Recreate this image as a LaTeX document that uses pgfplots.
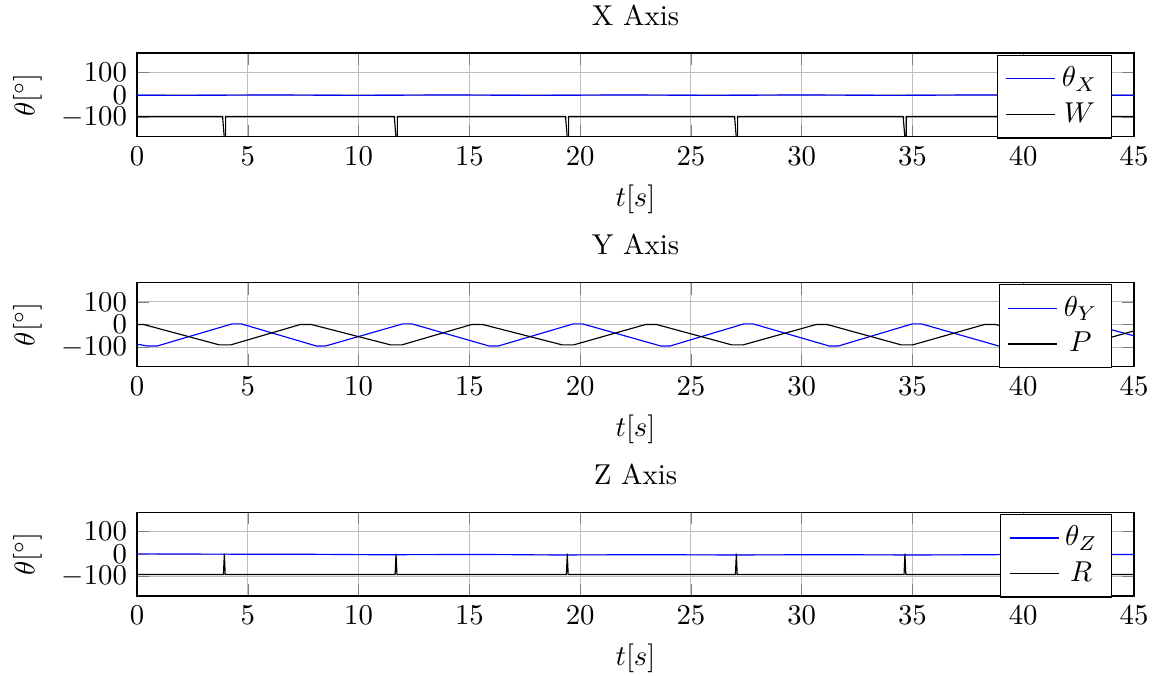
\documentclass[border=0pt]{standalone}
\usepackage{pgfplots}
\pgfplotsset{compat=1.18}
\usepgfplotslibrary{groupplots}

\begin{document}
\begin{tikzpicture}
\begin{groupplot}[
  group style={group size=1 by 3, vertical sep=50.7pt},
  scale only axis,
  width=347pt, height=29.2pt,
  xmin=0, xmax=45, ymin=-185, ymax=185,
  xtick={0,5,...,45}, ytick={-100,0,100},
  grid=major,
  xlabel={$t[s]$}, ylabel={$\theta[^\circ]$},
  legend style={at={(0.978,0.98)}, anchor=north east},
  legend cell align=center,
]
% X axis
\nextgroupplot[title={X Axis}]
\addplot[blue] coordinates {(0,-1) (2,-2) (4,-1) (6,0) (8,-1) (10,-2) (12,-1) (14,0) (16,-1) (18,-2) (20,-1) (22,0) (24,-1) (26,-2) (28,-1) (30,0) (32,-1) (34,-2) (36,-1) (38,0) (40,-1) (42,-2) (45,-1)};
\addplot[black] coordinates {(0,-95)
 (3.86,-95) (3.94,-190) (4.0,-190) (4.0,-95)
 (11.61,-95) (11.69,-190) (11.75,-190) (11.75,-95)
 (19.34,-95) (19.42,-190) (19.48,-190) (19.48,-95)
 (26.97,-95) (27.05,-190) (27.11,-190) (27.11,-95)
 (34.58,-95) (34.66,-190) (34.72,-190) (34.72,-95)
 (42.30,-95) (42.38,-190) (42.44,-190) (42.44,-95)
 (45,-95)};
\legend{$\theta_X$,$W$}
% Y axis
\nextgroupplot[title={Y Axis}]
\addplot[blue] coordinates {(0,-87) (0.5,-95) (0.9,-95) (4.3,3) (4.7,3)
 (8.1,-95) (8.5,-95) (12.0,3) (12.4,3)
 (15.9,-95) (16.3,-95) (19.7,3) (20.1,3)
 (23.65,-95) (24.05,-95) (27.4,3) (27.8,3)
 (31.25,-95) (31.65,-95) (35.0,3) (35.4,3)
 (38.9,-95) (39.3,-95) (42.6,3) (43.0,3) (45,-50)};
\addplot[black] coordinates {(0,0) (0.3,0) (3.72,-90) (4.22,-90) (7.37,0) (7.87,0)
 (11.45,-90) (11.95,-90) (15.1,0) (15.6,0)
 (19.2,-90) (19.7,-90) (22.95,0) (23.45,0)
 (26.85,-90) (27.35,-90) (30.65,0) (31.15,0)
 (34.5,-90) (35.0,-90) (38.25,0) (38.75,0)
 (42.25,-90) (42.75,-90) (45,-28)};
\legend{$\theta_Y$,$P$}
% Z axis
\nextgroupplot[title={Z Axis}]
\addplot[blue] coordinates {(0,1) (3,0) (6,-1) (8,-1) (11,-3) (14,-2) (16,-2) (19,-4) (22,-3) (24,-3) (27,-4) (30,-3) (32,-3) (35,-4) (38,-3) (40,-2) (45,-2)};
\addplot[black] coordinates {(0,-90)
 (3.90,-90) (3.94,2) (3.98,-90)
 (11.65,-90) (11.69,2) (11.73,-90)
 (19.38,-90) (19.42,2) (19.46,-90)
 (27.01,-90) (27.05,2) (27.09,-90)
 (34.62,-90) (34.66,2) (34.70,-90)
 (42.34,-90) (42.38,2) (42.42,-90)
 (45,-90)};
\legend{$\theta_Z$,$R$}
\end{groupplot}
\pgfresetboundingbox
\path[use as bounding box] ([shift={(-47.7pt,18.45pt)}]group c1r1.north west)
  rectangle ([shift={(8.35pt,-27.8pt)}]group c1r3.south east);
\end{tikzpicture}
\end{document}
